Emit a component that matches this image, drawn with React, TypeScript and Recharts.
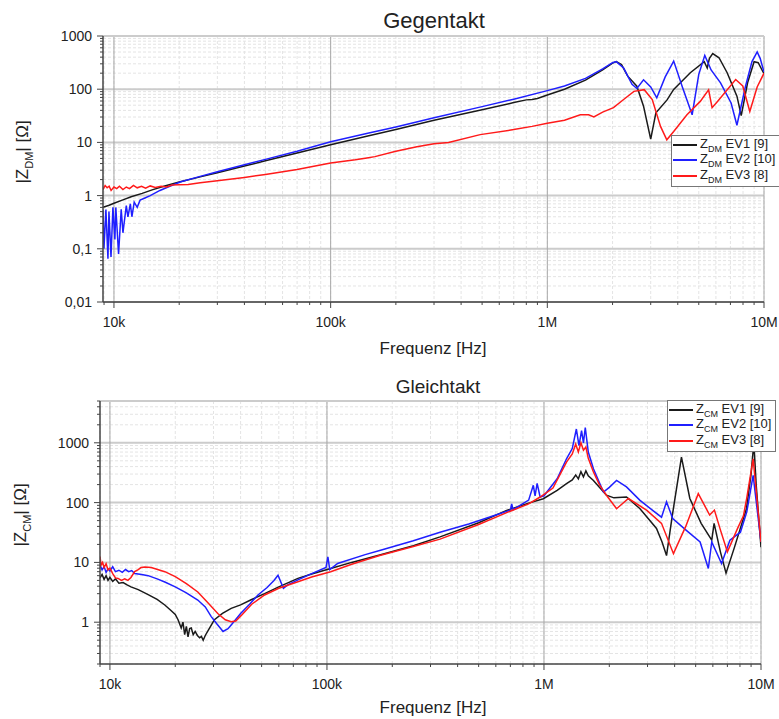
import React from 'react';
import { LineChart, Line, XAxis, YAxis, CartesianGrid, ReferenceLine } from 'recharts';

// frequency axis (Hz)
const xMajorTicks = [1e4, 1e5, 1e6, 1e7];
const xTickLabels = ['10k', '100k', '1M', '10M'];
const steps = [2, 3, 4, 5, 6, 7, 8, 9];
const xMinorTicks = [9000, ...[1e4, 1e5, 1e6].flatMap((d) => steps.map((s) => s * d))];

// Gegentakt y axis
const dmYMajor = [0.01, 0.1, 1, 10, 100, 1000];
const dmYLabels = ['0,01', '0,1', '1', '10', '100', '1000'];
const dmYMinor = [0.01, 0.1, 1, 10, 100].flatMap((d) => steps.map((s) => s * d));

// Gleichtakt y axis
const cmYMajor = [1, 10, 100, 1000];
const cmYLabels = ['1', '10', '100', '1000'];
const cmYMinor = [0.2, 0.3, 0.4, 0.5, 0.6, 0.7, 0.8, 0.9, ...[1, 10, 100].flatMap((d) => steps.map((s) => s * d)), 2000, 3000, 4000, 5000];

// [frequency Hz, |Z| Ohm]
const dmEv1: [number, number][] = [
  [8900, 0.6], [9500, 0.66], [10000, 0.72], [11000, 0.83], [12000, 0.95], [13500, 1.1], [15000, 1.28],
  [17000, 1.5], [20000, 1.8], [25000, 2.25], [30000, 2.7], [40000, 3.6], [50000, 4.5], [70000, 6.3],
  [100000, 9], [150000, 13.3], [200000, 17.5], [300000, 26], [500000, 41], [700000, 56], [800000, 63],
  [850000, 64], [900000, 67], [1000000, 78], [1200000, 100], [1500000, 148], [1800000, 230], [2000000, 310],
  [2080000, 330], [2200000, 290], [2350000, 176], [2590000, 114], [2780000, 48], [3000000, 11.5],
  [3170000, 36], [3570000, 63], [3830000, 99], [4570000, 204], [5300000, 330], [5470000, 250],
  [5600000, 380], [5800000, 466], [6200000, 390], [6760000, 204], [7500000, 74], [7850000, 32],
  [8400000, 132], [9000000, 328], [9400000, 315], [10000000, 195],
];

const dmEv2: [number, number][] = [
  [8900, 0.55], [8990, 0.1], [9180, 0.55], [9380, 0.065], [9480, 0.5], [9690, 0.07], [9890, 0.6],
  [10100, 0.15], [10200, 0.6], [10500, 0.08], [10800, 0.55], [11000, 0.2], [11400, 0.65], [11600, 0.4],
  [11900, 0.7], [12100, 0.4], [12400, 0.75], [12800, 0.6], [13200, 0.82], [13900, 0.9], [14700, 1.0],
  [16300, 1.25], [18100, 1.5], [20200, 1.8], [25000, 2.3], [30000, 2.8], [40000, 3.8], [50000, 4.8],
  [70000, 6.8], [100000, 10.3], [150000, 15], [200000, 19.5], [300000, 29], [500000, 47], [700000, 65],
  [1000000, 94], [1200000, 115], [1500000, 160], [1800000, 240], [2000000, 315], [2080000, 330],
  [2250000, 250], [2460000, 124], [2590000, 103], [2780000, 150], [3000000, 110], [3200000, 69],
  [3500000, 170], [3830000, 337], [4200000, 110], [4660000, 33], [5000000, 190], [5330000, 433],
  [5700000, 230], [6300000, 132], [7050000, 55], [7500000, 21], [8200000, 110], [8800000, 330],
  [9300000, 500], [9600000, 380], [10000000, 210],
];

const dmEv3: [number, number][] = [
  [8900, 1.3], [9100, 1.55], [9300, 1.4], [9500, 1.5], [9700, 1.25], [10000, 1.45], [10300, 1.35],
  [10600, 1.5], [11000, 1.3], [11400, 1.45], [11800, 1.35], [12300, 1.55], [12800, 1.4], [13400, 1.5],
  [14000, 1.38], [14700, 1.52], [15500, 1.42], [16500, 1.5], [17500, 1.45], [18500, 1.58], [20000, 1.6],
  [22000, 1.62], [25000, 1.75], [30000, 1.9], [40000, 2.2], [50000, 2.5], [70000, 3.1], [100000, 4.1],
  [130000, 4.7], [147000, 5.1], [160000, 5.4], [200000, 6.8], [250000, 8.3], [300000, 9.4], [350000, 10],
  [490000, 14], [700000, 17.4], [850000, 20], [1000000, 23], [1200000, 26], [1420000, 33], [1550000, 33],
  [1640000, 30], [1800000, 37], [2020000, 45], [2250000, 64], [2510000, 91], [2800000, 98], [3050000, 64],
  [3330000, 20], [3560000, 11.2], [3830000, 16], [4410000, 33], [5080000, 59], [5550000, 97],
  [5760000, 45], [6100000, 59], [7400000, 152], [7980000, 115], [8600000, 38], [9300000, 110],
  [10000000, 200],
];

const cmEv1: [number, number][] = [
  [9000, 5.5], [9200, 6.3], [9400, 5.2], [9600, 6.0], [9800, 5.0], [10000, 5.6], [10300, 4.8],
  [10600, 5.3], [11000, 4.5], [11500, 4.6], [12000, 4.2], [12500, 3.9], [13500, 3.5], [15000, 2.9],
  [16500, 2.4], [17900, 1.94], [19000, 1.6], [20000, 1.35], [20600, 1.1], [21300, 0.8], [21700, 1.0],
  [22100, 0.62], [22500, 0.85], [22900, 0.57], [23300, 0.78], [23700, 0.8], [24200, 0.62], [24700, 0.7],
  [25300, 0.6], [25900, 0.55], [26400, 0.58], [26900, 0.5], [27500, 0.6], [28500, 0.75], [30300, 1.1],
  [33000, 1.4], [36200, 1.7], [40000, 1.95], [45000, 2.4], [51600, 3.0], [60000, 3.9], [73500, 5.4],
  [85000, 6.4], [104000, 7.9], [130000, 10], [175000, 13.3], [250000, 19], [332000, 26.7], [500000, 46],
  [673000, 74], [850000, 98], [993000, 116], [1150000, 160], [1270000, 207], [1350000, 240],
  [1400000, 290], [1440000, 250], [1480000, 330], [1520000, 270], [1560000, 340], [1600000, 280],
  [1690000, 235], [1800000, 180], [1940000, 133], [2100000, 120], [2400000, 124], [2770000, 79],
  [3300000, 37], [3500000, 22], [3670000, 13], [3900000, 60], [4300000, 575], [4700000, 117],
  [5300000, 45], [5930000, 23.5], [6080000, 45], [6500000, 15], [6900000, 6.6], [7550000, 18],
  [8570000, 79], [9000000, 300], [9270000, 1000], [9500000, 200], [10000000, 18],
];

const cmEv2: [number, number][] = [
  [9000, 9], [9200, 7.5], [9400, 8.5], [9600, 6.8], [9800, 7.8], [10000, 7.2], [10300, 8.5], [10600, 7.0],
  [11000, 7.4], [11400, 6.8], [11800, 7.6], [12200, 7.0], [12600, 7.3], [13000, 6.5], [14000, 6.3],
  [15000, 6.0], [16500, 5.3], [17900, 4.7], [20000, 3.9], [22500, 3.1], [25400, 2.35], [27500, 1.8],
  [29300, 1.24], [31000, 0.95], [33200, 0.7], [35000, 0.78], [36200, 0.9], [40000, 1.4], [44000, 2.0],
  [48100, 2.85], [53000, 3.8], [57000, 5.0], [59500, 6.1], [63000, 3.7], [66000, 4.2], [73500, 5.1],
  [85000, 6.5], [99000, 8.2], [101000, 12.4], [103000, 7.6], [112000, 9.6], [150000, 13.5],
  [175000, 15.8], [250000, 23], [332000, 32], [450000, 44], [600000, 62], [700000, 75], [710000, 95],
  [720000, 76], [850000, 110], [893000, 195], [910000, 130], [930000, 210], [960000, 124],
  [1000000, 130], [1150000, 250], [1270000, 540], [1350000, 800], [1410000, 1700], [1450000, 900],
  [1490000, 1600], [1520000, 1000], [1550000, 1800], [1600000, 700], [1690000, 369], [1880000, 150],
  [2000000, 180], [2160000, 235], [2400000, 183], [2770000, 109], [3200000, 72], [3480000, 57],
  [3670000, 103], [3920000, 54], [4500000, 35], [5240000, 22], [5720000, 7.9], [5930000, 22],
  [6580000, 9.6], [7190000, 23.5], [8040000, 32], [8600000, 70], [9200000, 285], [10000000, 22],
];

const cmEv3: [number, number][] = [
  [9000, 12.5], [9100, 9], [9250, 10], [9400, 8.2], [9600, 9.5], [9800, 7.5], [10000, 8.0], [10300, 6.5],
  [10600, 5.5], [10900, 5.4], [11300, 5.0], [11700, 5.3], [12100, 5.0], [12500, 5.6], [13000, 7.0],
  [13500, 7.6], [13900, 8.2], [14500, 8.4], [15500, 8.2], [17900, 7.0], [20000, 5.8], [22500, 4.4],
  [25400, 3.2], [28000, 2.2], [31400, 1.4], [34000, 1.1], [36200, 1.02], [38000, 1.05], [40300, 1.3],
  [45000, 2.0], [51600, 2.85], [60000, 3.7], [73500, 4.75], [85000, 5.7], [104000, 7.0], [130000, 9.3],
  [175000, 13], [250000, 18.5], [332000, 24.5], [500000, 43], [673000, 68], [850000, 95], [960000, 124],
  [1100000, 175], [1270000, 475], [1350000, 650], [1400000, 950], [1440000, 700], [1480000, 1000],
  [1520000, 750], [1560000, 850], [1600000, 550], [1690000, 325], [1800000, 200], [1940000, 133],
  [2160000, 79], [2450000, 117], [2980000, 74], [3480000, 45], [3950000, 14], [4500000, 40],
  [5140000, 141], [5800000, 62], [6100000, 75], [6500000, 35], [7000000, 15], [7800000, 37],
  [8300000, 60], [8600000, 120], [9200000, 540], [10000000, 22],
];

const seriesNames = ['EV1 [9]', 'EV2 [10]', 'EV3 [8]'];
const colors = ['#1a1a1a', '#1f1fff', '#ff1a1a'];

const FONT = "'Liberation Sans', Arial, sans-serif";
const TEXT = '#222';

const rows = (pts: [number, number][]) => pts.map(([f, z]) => ({ f, z }));

const makeXTick = (props: any) => {
  const { x, y, payload } = props;
  const i = xMajorTicks.indexOf(payload.value);
  const major = i >= 0;
  return (
    <g>
      <line x1={x} y1={y} x2={x} y2={y + (major ? 6 : 3)} stroke="#444" strokeWidth={1} />
      {major && (
        <text x={x} y={y + 25} textAnchor="middle" fontSize={14} fontFamily={FONT} fill={TEXT}>
          {xTickLabels[i]}
        </text>
      )}
    </g>
  );
};

const makeYTick = (majors: number[], labels: string[]) => (props: any) => {
  const { x, y, payload } = props;
  const i = majors.indexOf(payload.value);
  const major = i >= 0;
  return (
    <g>
      <line x1={x} y1={y} x2={x - (major ? 6 : 3)} y2={y} stroke="#444" strokeWidth={1} />
      {major && (
        <text x={x - 11} y={y + 5} textAnchor="end" fontSize={14} fontFamily={FONT} fill={TEXT}>
          {labels[i]}
        </text>
      )}
    </g>
  );
};

type PanelProps = {
  height: number;
  margin: { top: number; right: number; bottom: number; left: number };
  yDomain: [number, number];
  yMajor: number[];
  yMinor: number[];
  yLabels: string[];
  series: [number, number][][];
  xMin: number;
};

const Panel = ({ height, margin, yDomain, yMajor, yMinor, yLabels, series, xMin }: PanelProps) => {
  const yTicks = Array.from(new Set([...yMinor, ...yMajor])).sort((a, b) => a - b);
  const xTicks = [...xMinorTicks, ...xMajorTicks].sort((a, b) => a - b);
  return (
    <LineChart width={779} height={height} margin={margin}>
      <CartesianGrid stroke="#e4e4e4" strokeDasharray="3 2" strokeWidth={1} />
      <XAxis
        type="number"
        dataKey="f"
        scale="log"
        domain={[xMin, 1e7]}
        allowDataOverflow
        ticks={xTicks}
        interval={0}
        tick={makeXTick}
        tickLine={false}
        tickSize={0}
        tickMargin={0}
        height={30}
        axisLine={{ stroke: '#444', strokeWidth: 1.5 }}
      />
      <YAxis
        type="number"
        dataKey="z"
        scale="log"
        domain={yDomain}
        allowDataOverflow
        ticks={yTicks}
        interval={0}
        tick={makeYTick(yMajor, yLabels)}
        tickLine={false}
        tickSize={0}
        tickMargin={0}
        width={60}
        axisLine={{ stroke: '#444', strokeWidth: 1.5 }}
      />
      {yMajor.map((v) => (
        <ReferenceLine key={'y' + v} y={v} stroke="#cccccc" strokeWidth={2} />
      ))}
      {xMajorTicks.map((v) => (
        <ReferenceLine key={'x' + v} x={v} stroke="#a8a8a8" strokeWidth={1} />
      ))}
      <ReferenceLine y={yDomain[1]} stroke="#cccccc" strokeWidth={2} />
      {series.map((s, i) => (
        <Line
          key={i}
          data={rows(s)}
          dataKey="z"
          stroke={colors[i]}
          strokeWidth={1.5}
          dot={false}
          type="linear"
          isAnimationActive={false}
        />
      ))}
    </LineChart>
  );
};

const LegendBox = ({ left, top, sub, rowH }: { left: number; top: number; sub: string; rowH: number }) => (
  <div
    style={{
      position: 'absolute',
      left,
      top,
      background: '#fff',
      border: '1px solid #777',
      padding: '1px 4px 2px 1px',
      fontFamily: FONT,
      fontSize: 13,
      color: TEXT,
    }}
  >
    {seriesNames.map((n, i) => (
      <div key={n} style={{ display: 'flex', alignItems: 'center', height: rowH, whiteSpace: 'nowrap' }}>
        <span style={{ display: 'inline-block', width: 24, height: 0, borderTop: `2px solid ${colors[i]}`, marginRight: 3 }} />
        <span>
          Z<sub style={{ fontSize: 9 }}>{sub}</sub> {n}
        </span>
      </div>
    ))}
  </div>
);

const abs = (left: number, top: number, size: number, extra: React.CSSProperties = {}): React.CSSProperties => ({
  position: 'absolute',
  left,
  top,
  transform: 'translate(-50%, -50%)',
  fontFamily: FONT,
  fontSize: size,
  color: TEXT,
  whiteSpace: 'nowrap',
  ...extra,
});

export default function App() {
  return (
    <div style={{ position: 'absolute', left: 0, top: 0, width: 779, height: 719, background: '#fff', overflow: 'hidden' }}>
      <div style={{ position: 'absolute', left: 0, top: 0 }}>
        <Panel
          height={360}
          margin={{ top: 36, right: 15, bottom: 28, left: 43 }}
          yDomain={[0.01, 1000]}
          yMajor={dmYMajor}
          yMinor={dmYMinor}
          yLabels={dmYLabels}
          series={[dmEv1, dmEv2, dmEv3]}
          xMin={8900}
        />
      </div>
      <div style={{ position: 'absolute', left: 0, top: 360 }}>
        <Panel
          height={359}
          margin={{ top: 41, right: 18, bottom: 25, left: 40 }}
          yDomain={[0.2, 5000]}
          yMajor={cmYMajor}
          yMinor={cmYMinor}
          yLabels={cmYLabels}
          series={[cmEv1, cmEv2, cmEv3]}
          xMin={9000}
        />
      </div>

      <div style={abs(434, 21, 22)}>Gegentakt</div>
      <div style={abs(438, 387, 19)}>Gleichtakt</div>
      <div style={abs(433, 349, 17)}>Frequenz [Hz]</div>
      <div style={abs(433, 708, 17)}>Frequenz [Hz]</div>
      <div style={abs(24, 152, 17, { transform: 'translate(-50%, -50%) rotate(-90deg)' })}>
        |Z<sub style={{ fontSize: 11 }}>DM</sub>| [Ω]
      </div>
      <div style={abs(22, 515, 17, { transform: 'translate(-50%, -50%) rotate(-90deg)' })}>
        |Z<sub style={{ fontSize: 11 }}>CM</sub>| [Ω]
      </div>

      <LegendBox left={671} top={135} sub="DM" rowH={15.5} />
      <LegendBox left={667} top={400} sub="CM" rowH={15.5} />
    </div>
  );
}
